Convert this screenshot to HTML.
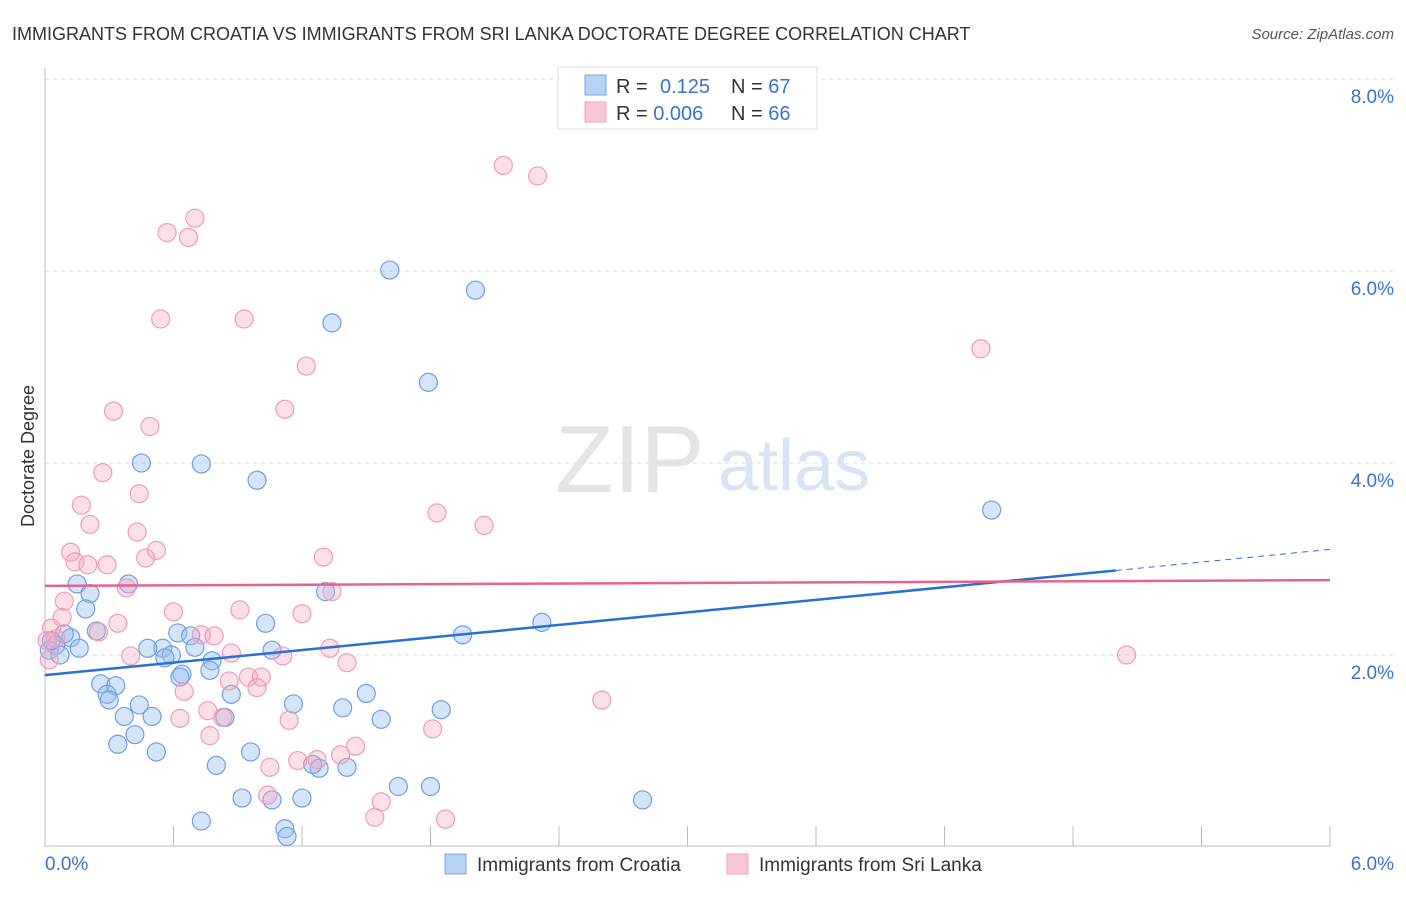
<!DOCTYPE html>
<html><head><meta charset="utf-8"><style>
body{margin:0;background:#fff;font-family:"Liberation Sans",sans-serif;}
svg text{font-family:"Liberation Sans",sans-serif;}
</style></head><body>
<svg id="c" width="1406" height="892" xmlns="http://www.w3.org/2000/svg">
<text x="12" y="40" font-size="18" fill="#333">IMMIGRANTS FROM CROATIA VS IMMIGRANTS FROM SRI LANKA DOCTORATE DEGREE CORRELATION CHART</text>
<text x="1394" y="39" font-size="15" fill="#555" font-style="italic" text-anchor="end">Source: ZipAtlas.com</text>
<text x="555" y="492" font-size="96" fill="#e4e4e4" font-family="Liberation Serif">ZIP</text>
<text x="718" y="490" font-size="72" fill="#d6e4f5">atlas</text>
<text transform="translate(34,456) rotate(-90)" font-size="18" fill="#333" text-anchor="middle">Doctorate Degree</text>
<g id="grid"></g><g id="marks"></g><g id="trend"></g>
<g>
<rect x="558" y="67" width="259" height="62" fill="#fff" stroke="#ddd"/>
<rect x="585" y="75" width="21" height="20" fill="#b8d2f3" stroke="#7aa6e0"/>
<rect x="585" y="102" width="21" height="20" fill="#f8c6d5" stroke="#f0a0bc"/>
<text x="616" y="93" font-size="20" fill="#333">R = <tspan x="660" fill="#3a73c8">0.125</tspan><tspan x="731" fill="#333">N = </tspan><tspan fill="#3a73c8">67</tspan></text>
<text x="616" y="120" font-size="20" fill="#333">R = <tspan fill="#3a73c8">0.006</tspan><tspan x="731" fill="#333">N = </tspan><tspan fill="#3a73c8">66</tspan></text>
</g>
<g>
<rect x="445" y="854" width="21" height="20" fill="#b8d2f3" stroke="#7aa6e0"/>
<text x="477" y="871" font-size="19" fill="#333">Immigrants from Croatia</text>
<rect x="727" y="854" width="21" height="20" fill="#f8c6d5" stroke="#f0a0bc"/>
<text x="759" y="871" font-size="19" fill="#333">Immigrants from Sri Lanka</text>
</g>
</svg>
<script>
const yTicks=[2,4,6,8];
const yTickLabels=["2.0%","4.0%","6.0%","8.0%"];
const xTickLabels=["0.0%","6.0%"];
const blueX=[0.15,0.21,0.19,0.39,0.24,0.12,0.09,0.05,0.16,0.02,0.45,0.73,0.99,1.61,2.01,1.34,1.79,4.42,1.31,1.03,0.62,0.68,0.55,0.48,0.59,0.56,0.70,0.78,0.77,0.64,0.63,1.06,1.95,2.32,0.26,0.33,0.29,0.30,0.44,0.87,1.16,1.50,1.39,0.37,0.50,0.84,1.57,1.85,0.42,0.34,0.52,0.96,0.80,1.28,1.41,1.65,1.80,0.92,1.06,1.20,0.73,2.79,1.12,1.13,1.25,0.07,0.03];
const blueY=[2.74,2.64,2.48,2.74,2.25,2.18,2.22,2.10,2.07,2.05,4.00,3.99,3.82,6.01,5.80,5.46,4.84,3.51,2.66,2.33,2.23,2.20,2.07,2.07,2.00,1.97,2.08,1.94,1.84,1.80,1.77,2.05,2.21,2.34,1.70,1.68,1.59,1.53,1.48,1.59,1.49,1.60,1.45,1.36,1.36,1.35,1.33,1.43,1.17,1.07,0.99,0.99,0.85,0.82,0.83,0.63,0.63,0.51,0.49,0.51,0.27,0.49,0.19,0.11,0.86,2.00,2.15];
const pinkX=[2.14,2.30,0.70,0.57,0.67,0.54,0.93,1.22,4.37,0.32,1.12,0.49,0.27,0.44,0.17,1.83,2.05,0.21,0.43,0.12,0.52,0.47,1.30,0.14,0.20,0.29,0.38,1.34,0.09,0.60,0.91,1.20,0.08,0.34,0.25,0.73,0.79,0.03,0.05,1.33,1.11,0.87,0.40,1.41,5.05,0.95,1.01,0.86,0.99,0.65,2.60,0.76,0.83,0.63,1.14,0.77,1.81,1.45,1.38,1.18,1.27,1.05,1.04,1.57,1.87,1.54,0.02,0.01];
const pinkY=[7.10,6.99,6.55,6.40,6.35,5.50,5.50,5.01,5.19,4.54,4.56,4.38,3.90,3.68,3.56,3.48,3.35,3.36,3.28,3.07,3.09,3.01,3.02,2.97,2.94,2.94,2.70,2.66,2.56,2.45,2.47,2.43,2.39,2.33,2.24,2.21,2.20,2.28,2.17,2.07,1.99,2.02,1.99,1.92,2.00,1.77,1.77,1.73,1.66,1.62,1.53,1.42,1.35,1.34,1.32,1.16,1.23,1.05,0.96,0.90,0.91,0.83,0.54,0.47,0.29,0.31,1.95,2.15];
const NS='http://www.w3.org/2000/svg';
const X=v=>45+v*214.17, Y=v=>847-v*96;
function mk(t,a,p){const e=document.createElementNS(NS,t);for(const k in a)e.setAttribute(k,a[k]);p.appendChild(e);return e;}
const grid=document.getElementById('grid');
yTicks.forEach((t,i)=>{
 const l=mk('line',{x1:45,x2:1394,y1:Y(t),y2:Y(t),stroke:'#ddd','stroke-dasharray':'4,4'},grid);
 
 
 const tx=mk('text',{x:1394,y:Y(t)+24,'font-size':19,fill:'#3a73c8','text-anchor':'end'},grid);
 tx.textContent=yTickLabels[i];
 
 
});
const ax=mk('line',{x1:45,x2:45,y1:68,y2:847,stroke:'#bbb'},grid);


const bx=mk('line',{x1:45,x2:1330,y1:846,y2:846,stroke:'#bbb'},grid);


for(let i=0;i<=10;i++){const t=mk('line',{x1:X(i*0.6),x2:X(i*0.6),y1:826,y2:846,stroke:'#bbb'},grid);
 
 }
[[0,'start',45],[6,'end',1394]].forEach((d,i)=>{const t=mk('text',{x:d[2],y:870,'font-size':19,fill:'#3a73c8','text-anchor':d[1]},grid);t.textContent=xTickLabels[i];
 
 });
const marks=document.getElementById('marks');
blueX.forEach((v,i)=>{const c=mk('circle',{cx:X(v),cy:Y(blueY[i]),r:9,fill:'rgba(150,190,240,0.4)',stroke:'#6f9fe0','stroke-width':1.2},marks);
 
 });
pinkX.forEach((v,i)=>{const c=mk('circle',{cx:X(v),cy:Y(pinkY[i]),r:9,fill:'rgba(245,165,190,0.35)',stroke:'#f09ab8','stroke-width':1.2},marks);
 
 });
const tr=document.getElementById('trend');
const b1=mk('line',{x1:X(0),y1:Y(1.79),x2:X(5),y2:Y(2.88),stroke:'#2a6fd6','stroke-width':2.5},tr);


const b2=mk('line',{x1:X(5),y1:Y(2.88),x2:X(6),y2:Y(3.1),stroke:'#2a6fd6','stroke-width':1,'stroke-dasharray':'6,5'},tr);


const p1=mk('line',{x1:X(0),y1:Y(2.72),x2:X(6),y2:Y(2.78),stroke:'#e8628e','stroke-width':2.5},tr);


</script>
</body></html>
